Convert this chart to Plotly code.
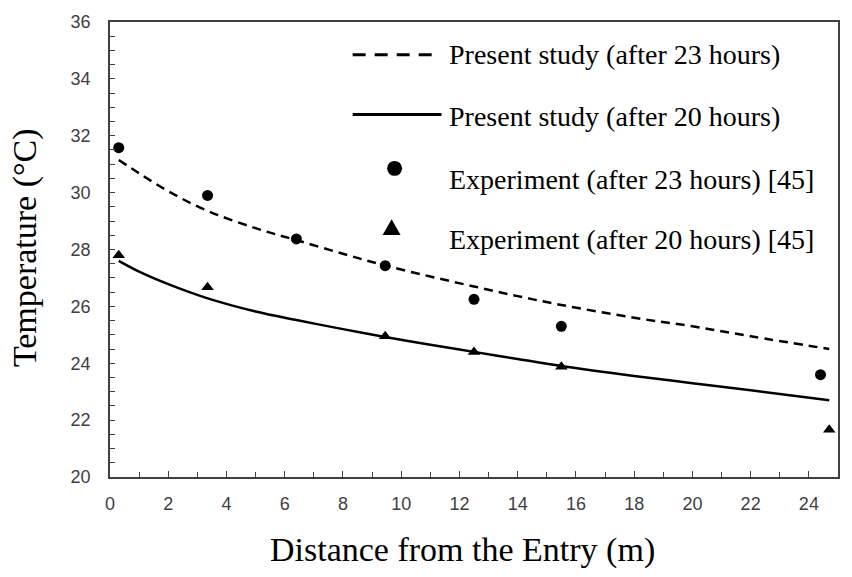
import plotly.graph_objects as go

# Model curves (Present study)
x_curve = [0.3, 1, 2, 3.3, 5, 6.4, 8, 9.4, 11, 12.5, 14, 15.5, 18, 20, 22, 24.7]
t23_model = [31.15, 30.68, 30.05, 29.38, 28.75, 28.33, 27.85, 27.45, 27.05, 26.7, 26.36, 26.05, 25.6, 25.3, 24.95, 24.5]
t20_model = [27.6, 27.22, 26.78, 26.3, 25.82, 25.52, 25.2, 24.93, 24.65, 24.4, 24.15, 23.9, 23.55, 23.3, 23.05, 22.7]

# Experiment [45]
x_exp23 = [0.3, 3.35, 6.4, 9.45, 12.5, 15.5, 24.4]
t23_exp = [31.58, 29.9, 28.37, 27.43, 26.25, 25.3, 23.6]
x_exp20 = [0.3, 3.35, 9.45, 12.5, 15.5, 24.7]
t20_exp = [27.8, 26.67, 24.95, 24.4, 23.88, 21.66]

legend_labels = ["Present study (after 23 hours)", "Present study (after 20 hours)",
                 "Experiment (after 23 hours) [45]", "Experiment (after 20 hours) [45]"]

SERIF = "Liberation Serif, Times New Roman, serif"
TICKF = "Liberation Sans Narrow, Arial Narrow, Liberation Sans, sans-serif"

fig = go.Figure()
fig.add_trace(go.Scatter(x=x_curve, y=t23_model, mode="lines", line_shape="spline",
                         line=dict(color="black", width=2.5, dash="9px,6px"), showlegend=False))
fig.add_trace(go.Scatter(x=x_curve, y=t20_model, mode="lines", line_shape="spline",
                         line=dict(color="black", width=2.5), showlegend=False))
fig.add_trace(go.Scatter(x=x_exp23, y=t23_exp, mode="markers",
                         marker=dict(symbol="circle", size=11, color="black"), showlegend=False))
fig.add_trace(go.Scatter(x=x_exp20, y=t20_exp, mode="markers",
                         marker=dict(symbol="triangle-up", size=11, color="black"), showlegend=False))

# Plot-area geometry (pixels) for the manual legend
L, R, T, B = 110, 839, 20, 477
def px(xp):
    return (xp - L) / (R - L)
def py(yp):
    return (B - yp) / (B - T)

shapes = []
annotations = []
rows_y = [53, 115, 178, 238]
shapes.append(dict(type="line", xref="paper", yref="paper", x0=px(353), x1=px(441), y0=py(53), y1=py(53),
                   line=dict(color="black", width=3, dash="13px,9px")))
shapes.append(dict(type="line", xref="paper", yref="paper", x0=px(353), x1=px(442), y0=py(113), y1=py(113),
                   line=dict(color="black", width=3)))
r = 7.5
shapes.append(dict(type="circle", xref="paper", yref="paper", x0=px(395 - r), x1=px(395 + r),
                   y0=py(167 + r), y1=py(167 - r), fillcolor="black", line=dict(color="black", width=0)))
tri = "M {} {} L {} {} L {} {} Z".format(px(383), py(234), px(401), py(234), px(392), py(218))
shapes.append(dict(type="path", xref="paper", yref="paper", path=tri, fillcolor="black",
                   line=dict(color="black", width=0)))

for lbl, yy in zip(legend_labels, rows_y):
    annotations.append(dict(text=lbl, xref="paper", yref="paper", x=px(447), y=py(yy),
                            xanchor="left", yanchor="middle", showarrow=False,
                            font=dict(family=SERIF, size=28, color="black")))

# Axis titles as annotations for precise placement
annotations.append(dict(text="Distance from the Entry (m)", xref="paper", yref="paper",
                        x=px(463), y=py(550), xanchor="center", yanchor="middle", showarrow=False,
                        font=dict(family=SERIF, size=34, color="black")))
annotations.append(dict(text="Temperature (°C)", xref="paper", yref="paper", textangle=-90,
                        x=px(25), y=py(247), xanchor="center", yanchor="middle", showarrow=False,
                        font=dict(family=SERIF, size=34, color="black")))

fig.update_layout(
    width=852, height=577,
    margin=dict(l=L, r=852 - R, t=T, b=577 - B),
    plot_bgcolor="white", paper_bgcolor="white",
    shapes=shapes, annotations=annotations,
    showlegend=False,
    xaxis=dict(range=[0, 25], dtick=2, tick0=0, showgrid=False, zeroline=False,
               showline=True, mirror=True, linecolor="#404040", linewidth=1.5,
               ticks="inside", ticklen=6, tickcolor="#404040", tickwidth=1,
               minor=dict(dtick=1, ticks="inside", ticklen=5, tickcolor="#404040", showgrid=False),
               tickfont=dict(family=TICKF, size=18, color="#404040"),
               ticklabelstandoff=10),
    yaxis=dict(range=[20, 36], dtick=2, tick0=20, showgrid=False, zeroline=False,
               showline=True, mirror=True, linecolor="#404040", linewidth=1.5,
               ticks="inside", ticklen=5, tickcolor="#404040", tickwidth=1,
               minor=dict(dtick=0.5, ticks="inside", ticklen=5, tickcolor="#404040", showgrid=False),
               tickfont=dict(family=TICKF, size=18, color="#404040"),
               ticklabelstandoff=14),
)

fig.write_html("out.html")
